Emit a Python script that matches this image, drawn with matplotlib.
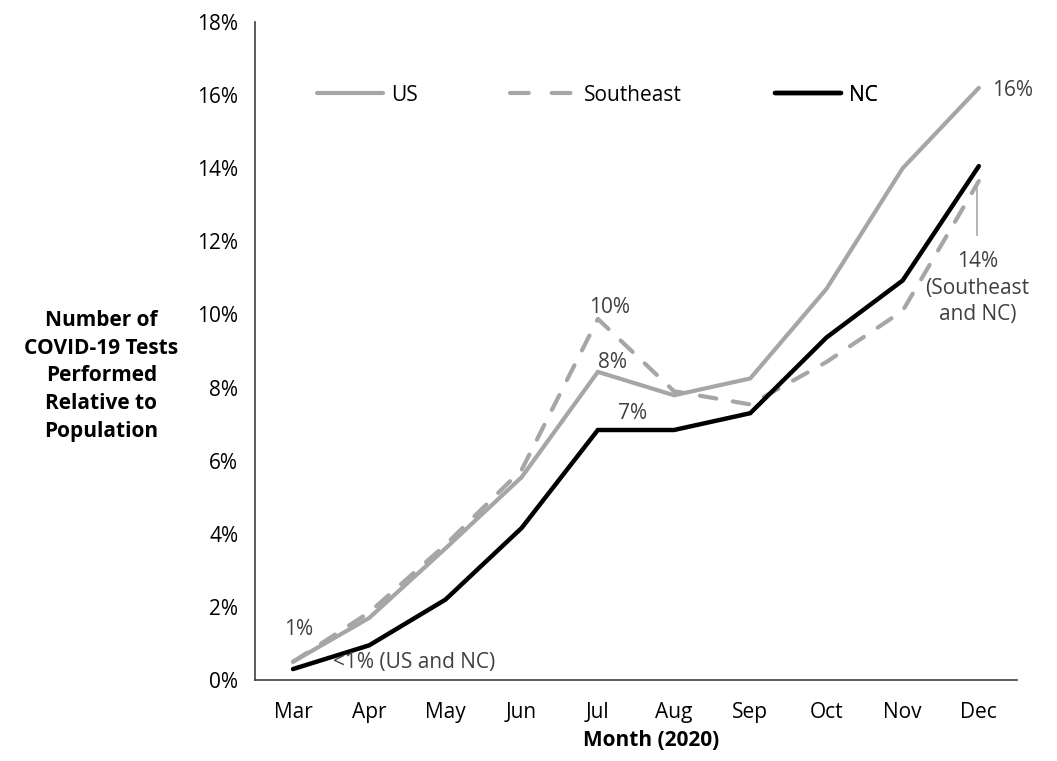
import matplotlib
matplotlib.use("Agg")
import matplotlib.pyplot as plt
from matplotlib.lines import Line2D
from matplotlib.ticker import PercentFormatter

plt.rcParams['font.family'] = ['Open Sans', 'DejaVu Sans']

months = ["Mar", "Apr", "May", "Jun", "Jul", "Aug", "Sep", "Oct", "Nov", "Dec"]
us = [0.5, 1.7, 3.6, 5.55, 8.43, 7.79, 8.25, 10.7, 14.0, 16.2]
southeast = [0.5, 1.85, 3.7, 5.75, 9.88, 7.9, 7.54, 8.7, 10.1, 13.65]
nc = [0.3, 0.95, 2.2, 4.16, 6.84, 6.84, 7.3, 9.37, 10.93, 14.06]

GRAY = "#A6A6A6"
LABEL = "#404040"
FS = 15

fig = plt.figure(figsize=(10.57, 7.61), dpi=100)
ax = fig.add_axes([0.2412, 0.1064, 0.7209, 0.8646])

x = range(len(months))
ax.plot(x, us, color=GRAY, lw=3.0, solid_capstyle="round", solid_joinstyle="miter")
ax.plot(x, southeast, color=GRAY, lw=3.0, ls=(0, (4, 4)), dash_capstyle="round")
ax.plot(x, nc, color="black", lw=3.2, solid_capstyle="round", solid_joinstyle="miter")

ax.set_xlim(-0.5, len(months) - 0.5)
ax.set_ylim(0, 18)
ax.set_yticks(range(0, 19, 2))
ax.yaxis.set_major_formatter(PercentFormatter(decimals=0))
ax.set_xticks(list(x))
ax.set_xticklabels(months)
ax.tick_params(length=0, labelsize=FS)
ax.tick_params(axis="x", pad=16)
ax.tick_params(axis="y", pad=12)
for s in ["top", "right"]:
    ax.spines[s].set_visible(False)
for s in ["left", "bottom"]:
    ax.spines[s].set_color("#404040")
    ax.spines[s].set_linewidth(1.2)

# legend: three evenly spaced entries
entries = [
    ("US", dict(color=GRAY, lw=3.0, solid_capstyle="round"), 0.081),
    ("Southeast", dict(color=GRAY, lw=3.0, ls=(0, (4.5, 5.5)), dash_capstyle="round"), 0.335),
    ("NC", dict(color="black", lw=3.2, solid_capstyle="round"), 0.682),
]
for name, style, xpos in entries:
    lg = ax.legend([Line2D([], [], **style)], [name], loc="center left",
                   bbox_to_anchor=(xpos, 0.889), frameon=False, fontsize=FS,
                   handlelength=3.2, handletextpad=0.35, borderpad=0, borderaxespad=0)
    ax.add_artist(lg)

# value labels
ax.text(0.07, 1.37, "1%", fontsize=FS, color=LABEL, ha="center", va="center")
ax.text(0.52, 0.47, "<1% (US and NC)", fontsize=FS, color=LABEL, ha="left", va="center")
ax.text(4.15, 10.18, "10%", fontsize=FS, color=LABEL, ha="center", va="center")
ax.text(4.19, 8.7, "8%", fontsize=FS, color=LABEL, ha="center", va="center")
ax.text(4.45, 7.3, "7%", fontsize=FS, color=LABEL, ha="center", va="center")
ax.text(9.17, 16.14, "16%", fontsize=FS, color=LABEL, ha="left", va="center")
ax.text(8.98, 10.72, "14%\n(Southeast\nand NC)", fontsize=FS, color=LABEL,
        ha="center", va="center", linespacing=1.35)
ax.plot([8.98, 8.98], [12.17, 13.49], color=GRAY, lw=1.2)

fig.text(0.096, 0.506, "Number of\nCOVID-19 Tests\nPerformed\nRelative to\nPopulation",
         fontsize=15, fontweight="bold", ha="center", va="center", linespacing=1.42)
fig.text(0.616, 0.027, "Month (2020)", fontsize=FS, fontweight="bold", ha="center", va="center")

fig.savefig("out.png", dpi=100)
